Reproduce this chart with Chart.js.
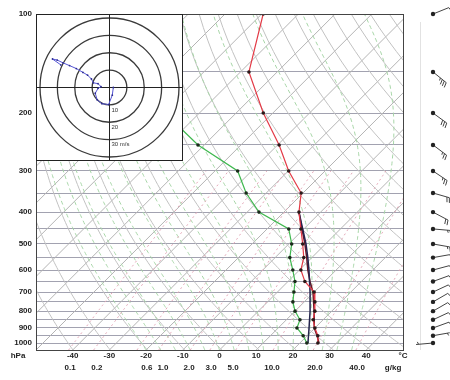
<!DOCTYPE html>
<html>
<head>
<meta charset="utf-8">
<script src="https://cdn.jsdelivr.net/npm/chart.js@4.4.1/dist/chart.umd.min.js"></script>
<style>
  body { margin: 0; background: #fff; }
  #wrap { position: relative; width: 450px; height: 380px; }
  #hodo { position: absolute; left: 36px; top: 14px; }
</style>
</head>
<body>
<div id="wrap">
  <canvas id="skewT" width="450" height="380"></canvas>
  <canvas id="hodo" width="147" height="147"></canvas>
</div>
<script>
// Sounding (pressure hPa, temperature C)
const levels = [100, 150, 200, 250, 300, 350, 400, 450, 500, 550, 600, 650, 700, 750, 800, 850, 900, 950, 1000];
const temperature = [-79.6, -67.7, -52.6, -39.6, -29.9, -20.5, -15.9, -10.8, -6.2, -2.2, 0.4, 4.6, 10.0, 12.9, 15.4, 17.3, 20.0, 22.9, 24.9];

const dewLevels = [200, 250, 300, 350, 400, 450, 500, 550, 600, 650, 700, 750, 800, 850, 900, 950, 1000];
const dewpoint = [-79.4, -61.7, -43.8, -35.5, -26.8, -14.1, -9.2, -6.0, -1.8, 1.9, 4.5, 6.9, 10.0, 13.7, 15.1, 18.9, 21.9];

const parcelLevels1 = [400, 450, 500, 550, 600, 700, 800, 900, 1000];
const parcel1 = [-15.9, -10.3, -5.3, -1.1, 2.6, 8.9, 14.1, 18.4, 22.2];
const parcelLevels2 = [400, 450, 500, 550, 600, 650, 700, 800, 900, 950, 1000];
const parcel2 = [-15.9, -10.5, -5.6, -1.4, 2.3, 6.0, 9.7, 15.2, 19.8, 22.7, 25.2];

// wind barbs at each level (direction deg, speed kt)
const windDir = [68, 129, 126, 127, 124, 106, 118, 95, 100, 80, 75, 70, 65, 60, 60, 65, 70, 80, 265];
const windSpd = [10, 35, 30, 25, 25, 20, 20, 15, 15, 10, 10, 10, 10, 10, 10, 10, 10, 5, 5];

// hodograph components (m/s), same order as levels
const hodoU = [-28, -32.8, -30.1, -26.8, -23.0, -19.1, -15.3, -12.6, -10.4, -9.3, -6.6, -4.9, -6.6, -8.2, -7.1, -4.4, -0.5, 1.6, 2.2];
const hodoV = [13, 16.4, 15.8, 14.2, 12.6, 10.9, 8.7, 7.1, 4.9, 2.7, 2.2, 0.5, -0.5, -3.3, -7.1, -9.3, -9.8, -4.4, 0];
const hodoRings = [10, 20, 30, 40];

// axes
const tempTicks = [-50, -40, -30, -20, -10, 0, 10, 20, 30, 40, 50];
const pressureTicks = [100, 150, 200, 250, 300, 350, 400, 450, 500, 550, 600, 650, 700, 750, 800, 850, 900, 950, 1000, 1050];
const mixRatios = [0.1, 0.2, 0.6, 1.0, 2.0, 3.0, 5.0, 10.0, 20.0, 40.0];
// where each g/kg label sits on the bottom temperature axis
const mixTickAt = [-40.7, -33.4, -19.8, -15.4, -8.3, -2.3, 3.7, 14.3, 26.0, 37.5];
const mixUnitAt = 47.3;

const PBOT = 1050;
const SKEW = 89.6;
const tickFont = { family: 'Liberation Sans', size: 8, weight: 'bold' };

function skewX(t, p) {
  return t + SKEW * Math.log10(PBOT / p);
}

function dewFromMix(w, p) {
  const e = w * p / (622 + w);
  const l = Math.log(e / 6.112);
  return 243.5 * l / (17.67 - l);
}

function moistLapse(t, p) {
  const tk = t + 273.15;
  const es = 6.112 * Math.exp(17.67 * t / (t + 243.5));
  const rs = 0.622 * es / (p - es);
  const num = 287 * tk + 2.5e6 * rs;
  const den = 1004 + 2.5e6 * 2.5e6 * rs * 0.622 / (287 * tk * tk);
  return num / den / p;
}

function toPoints(ps, ts) {
  return ps.map((p, i) => ({ x: skewX(ts[i], p), y: p }));
}

// isotherms, adiabats and mixing ratio lines behind the data
const backgroundLines = {
  id: 'backgroundLines',
  beforeDatasetsDraw(chart) {
    const { ctx, chartArea, scales: { x, y } } = chart;
    ctx.save();
    ctx.beginPath();
    ctx.rect(chartArea.left, chartArea.top, chartArea.right - chartArea.left, chartArea.bottom - chartArea.top);
    ctx.clip();
    ctx.lineWidth = 1;

    const path = (fn, pTop) => {
      ctx.beginPath();
      for (let p = PBOT; p >= pTop; p -= 10) {
        const px = x.getPixelForValue(skewX(fn(p), p));
        const py = y.getPixelForValue(p);
        if (p === PBOT) ctx.moveTo(px, py); else ctx.lineTo(px, py);
      }
      ctx.stroke();
    };

    // isotherms
    ctx.strokeStyle = '#b4b4b4';
    for (let t = -150; t <= 50; t += 10) {
      ctx.beginPath();
      ctx.moveTo(x.getPixelForValue(skewX(t, PBOT)), y.getPixelForValue(PBOT));
      ctx.lineTo(x.getPixelForValue(skewX(t, 100)), y.getPixelForValue(100));
      ctx.stroke();
    }

    // dry adiabats
    ctx.strokeStyle = '#c2c2c2';
    for (let th = 220; th <= 460; th += 10) {
      path(p => th * Math.pow(p / 1000, 0.2857) - 273.15, 100);
    }

    // moist adiabats
    ctx.strokeStyle = '#a8d6a8';
    ctx.setLineDash([4, 3]);
    for (let t0 = -20; t0 <= 36; t0 += 4) {
      ctx.beginPath();
      let t = t0;
      ctx.moveTo(x.getPixelForValue(skewX(t, PBOT)), y.getPixelForValue(PBOT));
      for (let p = PBOT; p > 100; p -= 5) {
        t += moistLapse(t, p) * -5;
        ctx.lineTo(x.getPixelForValue(skewX(t, p - 5)), y.getPixelForValue(p - 5));
      }
      ctx.stroke();
    }

    // mixing ratio lines
    ctx.strokeStyle = '#e4a8b8';
    ctx.setLineDash([2, 3]);
    mixRatios.forEach(w => path(p => dewFromMix(w, p), 300));
    ctx.restore();
  },
  afterDatasetsDraw(chart) {
    const { ctx, chartArea } = chart;
    ctx.save();
    ctx.strokeStyle = '#444';
    ctx.lineWidth = 1;
    ctx.strokeRect(chartArea.left + 0.5, chartArea.top + 0.5, chartArea.right - chartArea.left, chartArea.bottom - chartArea.top);
    ctx.restore();
  }
};

// wind barbs down the right side
function drawBarb(ctx, x0, y0, dir, spd) {
  const a = dir * Math.PI / 180;
  const ux = Math.sin(a), uy = -Math.cos(a);
  const px = -uy, py = ux;
  const len = 17;
  const tx = x0 + ux * len, ty = y0 + uy * len;
  ctx.beginPath();
  ctx.moveTo(x0, y0);
  ctx.lineTo(tx, ty);
  ctx.stroke();
  let s = Math.round(spd / 5) * 5;
  let pos = 0;
  while (s >= 50) {
    ctx.beginPath();
    ctx.moveTo(tx - ux * pos, ty - uy * pos);
    ctx.lineTo(tx - ux * pos + px * 6, ty - uy * pos + py * 6);
    ctx.lineTo(tx - ux * (pos + 3), ty - uy * (pos + 3));
    ctx.closePath();
    ctx.fill();
    pos += 4;
    s -= 50;
  }
  while (s >= 10) {
    ctx.beginPath();
    ctx.moveTo(tx - ux * pos, ty - uy * pos);
    ctx.lineTo(tx - ux * pos + px * 5 + ux * 1.5, ty - uy * pos + py * 5 + uy * 1.5);
    ctx.stroke();
    pos += 2.5;
    s -= 10;
  }
  if (s >= 5) {
    if (pos === 0) pos = 2.5;
    ctx.beginPath();
    ctx.moveTo(tx - ux * pos, ty - uy * pos);
    ctx.lineTo(tx - ux * pos + px * 2.5 + ux, ty - uy * pos + py * 2.5 + uy);
    ctx.stroke();
  }
}

const windBarbs = {
  id: 'windBarbs',
  afterDraw(chart) {
    const { ctx, scales: { y } } = chart;
    const bx = 433;
    ctx.save();
    ctx.strokeStyle = '#e2e2e2';
    ctx.beginPath();
    ctx.moveTo(420.5, 22);
    ctx.lineTo(420.5, 350);
    ctx.stroke();
    ctx.strokeStyle = '#444';
    ctx.fillStyle = '#222';
    ctx.lineWidth = 1;
    levels.forEach((p, i) => {
      const by = y.getPixelForValue(p);
      drawBarb(ctx, bx, by, windDir[i], windSpd[i]);
      ctx.beginPath();
      ctx.arc(bx, by, 2.2, 0, Math.PI * 2);
      ctx.fill();
    });
    // unit label under the pressure axis
    ctx.font = 'bold 8px "Liberation Sans"';
    ctx.textAlign = 'center';
    ctx.textBaseline = 'middle';
    ctx.fillText('hPa', 18, 356);
    ctx.restore();
  }
};

const skewChart = new Chart(document.getElementById('skewT'), {
  type: 'scatter',
  data: {
    datasets: [
      {
        label: 'Temperature',
        data: toPoints(levels, temperature),
        showLine: true,
        borderColor: '#e33a46',
        borderWidth: 1.2,
        pointRadius: 1.8,
        pointBackgroundColor: '#2a1a1a',
        pointBorderWidth: 0
      },
      {
        label: 'Dewpoint',
        data: toPoints(dewLevels, dewpoint),
        showLine: true,
        borderColor: '#3fb84f',
        borderWidth: 1.2,
        pointRadius: 1.8,
        pointBackgroundColor: '#1a2a1a',
        pointBorderWidth: 0
      },
      {
        label: 'Parcel',
        data: toPoints(parcelLevels1, parcel1),
        showLine: true,
        borderColor: '#24244e',
        borderWidth: 1.5,
        pointRadius: 0
      },
      {
        label: 'Virtual',
        data: toPoints(parcelLevels2, parcel2),
        showLine: true,
        borderColor: '#6a1626',
        borderWidth: 1.5,
        pointRadius: 0
      }
    ]
  },
  options: {
    responsive: false,
    animation: false,
    events: [],
    layout: { padding: { left: 0, top: 14, right: 47, bottom: 0 } },
    plugins: { legend: { display: false }, tooltip: { enabled: false } },
    scales: {
      x: {
        type: 'linear',
        min: -50,
        max: 50,
        afterBuildTicks: s => { s.ticks = tempTicks.map(v => ({ value: v })); },
        afterFit: s => { s.height = 12; },
        ticks: {
          callback: v => v === 50 ? '°C' : (v === -50 ? '' : v),
          font: tickFont,
          color: '#222',
          padding: 1,
          maxRotation: 0,
          autoSkip: false
        },
        grid: { display: false, drawTicks: false },
        border: { display: false }
      },
      x2: {
        type: 'linear',
        position: 'bottom',
        min: -50,
        max: 50,
        afterBuildTicks: s => {
          s.ticks = mixTickAt.map(v => ({ value: v })).concat([{ value: mixUnitAt }]);
        },
        afterFit: s => { s.height = 18; },
        ticks: {
          callback: (v, i) => i < mixRatios.length ? mixRatios[i].toFixed(1) : 'g/kg',
          font: tickFont,
          color: '#222',
          padding: 1,
          maxRotation: 0,
          autoSkip: false
        },
        grid: { display: false, drawTicks: false },
        border: { display: false }
      },
      y: {
        type: 'logarithmic',
        reverse: true,
        min: 100,
        max: PBOT,
        afterBuildTicks: s => { s.ticks = pressureTicks.map(v => ({ value: v })); },
        afterFit: s => { s.width = 36; },
        ticks: {
          callback: v => v % 100 === 0 ? String(v) : '',
          font: tickFont,
          color: '#222',
          padding: 4,
          autoSkip: false
        },
        grid: { color: '#a2a2b0', drawTicks: false },
        border: { display: false }
      }
    }
  },
  plugins: [backgroundLines, windBarbs]
});

// hodograph inset
const hodoFrame = {
  id: 'hodoFrame',
  beforeDraw(chart) {
    const { ctx, width, height } = chart;
    ctx.save();
    ctx.fillStyle = '#fff';
    ctx.fillRect(0, 0, width, height);
    ctx.restore();
  },
  beforeDatasetsDraw(chart) {
    const { ctx, width, height, scales: { x, y } } = chart;
    const cx = x.getPixelForValue(0), cy = y.getPixelForValue(0);
    ctx.save();
    ctx.strokeStyle = '#3a3a3a';
    ctx.lineWidth = 1.3;
    hodoRings.forEach(r => {
      const rp = x.getPixelForValue(r) - cx;
      ctx.beginPath();
      ctx.arc(cx, cy, rp, 0, Math.PI * 2);
      ctx.stroke();
    });
    ctx.lineWidth = 1;
    ctx.strokeStyle = '#222';
    ctx.beginPath();
    ctx.moveTo(0, cy);
    ctx.lineTo(width, cy);
    ctx.moveTo(cx, 0);
    ctx.lineTo(cx, height);
    ctx.stroke();
    ctx.fillStyle = '#333';
    ctx.font = '6px "Liberation Sans"';
    ctx.textBaseline = 'middle';
    ['10', '20', '30 m/s'].forEach((t, i) => {
      const rp = y.getPixelForValue(-hodoRings[i]);
      ctx.fillText(t, cx + 2, rp + 5);
    });
    ctx.strokeRect(0.5, 0.5, width - 1, height - 1);
    ctx.restore();
  }
};

const hodoChart = new Chart(document.getElementById('hodo'), {
  type: 'scatter',
  data: {
    datasets: [{
      data: hodoU.map((u, i) => ({ x: u, y: hodoV[i] })),
      showLine: true,
      borderColor: '#5656d6',
      borderWidth: 1,
      pointRadius: 0.9,
      pointBackgroundColor: '#2e2e90',
      pointBorderWidth: 0
    }]
  },
  options: {
    responsive: false,
    animation: false,
    events: [],
    layout: { padding: 0 },
    plugins: { legend: { display: false }, tooltip: { enabled: false } },
    scales: {
      x: { display: false, min: -40, max: 40 },
      y: { display: false, min: -40, max: 40 }
    }
  },
  plugins: [hodoFrame]
});
</script>
</body>
</html>
